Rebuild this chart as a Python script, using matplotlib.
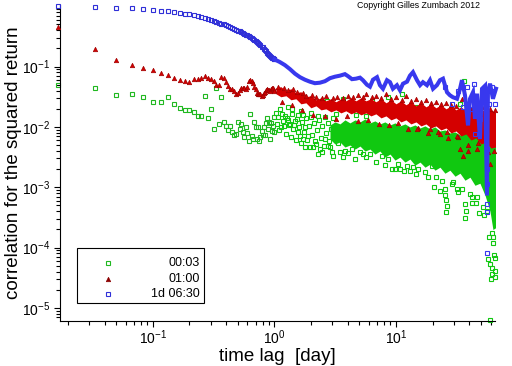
import numpy as np
import matplotlib.pyplot as plt
from matplotlib.patches import Rectangle
from matplotlib.ticker import LogLocator

plt.rcParams['font.family'] = ['Liberation Sans', 'DejaVu Sans']

# every value below is log10(lag in days) / log10(correlation)

# first 60 lags (one every 24 min) are common to the three series
short_log_lag = [-1.778, -1.477, -1.301, -1.176, -1.079, -1.000, -0.933, -0.875, -0.824, -0.778,
                 -0.737, -0.699, -0.664, -0.632, -0.602, -0.574, -0.549, -0.523, -0.500, -0.477,
                 -0.456, -0.436, -0.417, -0.398, -0.380, -0.363, -0.347, -0.331, -0.316, -0.301,
                 -0.287, -0.273, -0.260, -0.247, -0.234, -0.222, -0.210, -0.199, -0.187, -0.176,
                 -0.165, -0.155, -0.145, -0.135, -0.125, -0.115, -0.106, -0.097, -0.088, -0.079,
                 -0.071, -0.062, -0.054, -0.046, -0.038, -0.030, -0.022, -0.015, -0.007, 0.000]

green_short = [-1.312, -1.355, -1.478, -1.462, -1.512, -1.592, -1.588, -1.508, -1.625, -1.688,
               -1.722, -1.722, -1.755, -1.822, -1.812, -1.492, -1.855, -1.700, -2.033, -1.355,
               -1.955, -1.508, -1.912, -1.988, -2.045, -1.983, -2.083, -2.133, -2.117, -1.912,
               -2.033, -1.950, -2.078, -2.167, -2.000, -2.100, -2.225, -1.788, -2.158, -2.200,
               -1.925, -2.000, -2.200, -2.005, -2.228, -2.172, -2.067, -2.133, -2.000, -2.133,
               -1.933, -1.855, -2.033, -1.922, -2.200, -1.933, -2.067, -1.978, -1.833, -2.078]

red_short = [-0.338, -0.712, -0.895, -0.978, -1.022, -1.062, -1.108, -1.142, -1.183, -1.222,
             -1.237, -1.253, -1.212, -1.208, -1.188, -1.163, -1.187, -1.208, -1.233, -1.312,
             -1.308, -1.172, -1.183, -1.255, -1.322, -1.367, -1.378, -1.412, -1.450, -1.433,
             -1.383, -1.355, -1.350, -1.355, -1.367, -1.333, -1.245, -1.228, -1.242, -1.267,
             -1.333, -1.367, -1.433, -1.450, -1.458, -1.450, -1.488, -1.467, -1.433, -1.422,
             -1.392, -1.367, -1.383, -1.395, -1.400, -1.375, -1.358, -1.355, -1.383, -1.412]

blue_short = [0.000, -0.005, -0.022, -0.028, -0.038, -0.058, -0.072, -0.078, -0.092, -0.108,
              -0.122, -0.130, -0.142, -0.155, -0.170, -0.187, -0.205, -0.225, -0.242, -0.258,
              -0.275, -0.288, -0.300, -0.313, -0.327, -0.342, -0.355, -0.370, -0.387, -0.403,
              -0.413, -0.427, -0.440, -0.455, -0.468, -0.483, -0.497, -0.510, -0.527, -0.545,
              -0.560, -0.577, -0.593, -0.613, -0.632, -0.650, -0.667, -0.683, -0.703, -0.725,
              -0.747, -0.767, -0.788, -0.808, -0.825, -0.842, -0.853, -0.863, -0.872, -0.880]

# 00:03 : dense cloud after ~3 days (core band) plus the loose points around it
green_band_lag = [0.457, 0.498, 0.539, 0.580, 0.621, 0.663, 0.704, 0.745, 0.786, 0.827,
                  0.868, 0.909, 0.951, 0.992, 1.033, 1.074, 1.115, 1.156, 1.198, 1.239,
                  1.280, 1.321, 1.362, 1.403, 1.444, 1.486, 1.527, 1.568, 1.609, 1.650,
                  1.691, 1.733, 1.774, 1.798, 1.823]
green_band_top = [-1.967, -1.917, -1.950, -1.883, -1.933, -1.883, -1.917, -1.867, -1.933, -1.900,
                  -1.950, -1.917, -1.967, -1.933, -1.983, -1.950, -2.000, -1.967, -2.017, -1.983,
                  -2.033, -2.000, -2.067, -2.050, -2.100, -2.083, -2.133, -2.100, -2.133, -2.100,
                  -2.083, -2.017, -1.883, -1.833, -1.850]
green_band_bottom = [-2.200, -2.283, -2.250, -2.333, -2.300, -2.367, -2.317, -2.400, -2.367, -2.450,
                     -2.400, -2.500, -2.450, -2.550, -2.500, -2.583, -2.533, -2.633, -2.583, -2.667,
                     -2.617, -2.717, -2.667, -2.767, -2.717, -2.817, -2.767, -2.883, -2.833, -2.967,
                     -2.933, -3.133, -3.400, -3.700, -3.667]

green_lag = [0.012, 0.029, 0.045, 0.053, 0.070, 0.086, 0.103, 0.111, 0.119, 0.128,
             0.144, 0.152, 0.169, 0.185, 0.193, 0.210, 0.218, 0.235, 0.251, 0.251,
             0.276, 0.317, 0.333, 0.358, 0.374, 0.391, 0.416, 0.432, 0.440, 0.457,
             0.473, 0.481, 0.539, 0.564, 0.580, 0.638, 0.704, 0.728, 0.786, 0.802,
             0.885, 0.934, 0.934, 1.016, 1.033, 1.049, 1.091, 1.140, 1.173, 1.181,
             1.239, 1.296, 0.992, 1.115, 1.263, 1.313, 1.362, 1.403, 1.403, 1.412,
             1.420, 1.412, 1.469, 1.502, 1.510, 1.568, 1.576, 1.568, 1.626, 1.626,
             1.658, 1.667, 1.683, 1.716, 1.724, 1.749, 1.790, 1.798, 1.765, 1.798,
             1.807, 1.815, 1.757, 1.774, 1.790, 1.815, 1.790, 1.815, 1.782, 1.774,
             1.560, 1.584, 1.527, 1.650, 1.741, 0.235, 0.300, 0.358, 0.506, 0.671,
             0.753,
             0.021, 0.037, 0.062, 0.078, 0.095, 0.111, 0.136, 0.144, 0.160, 0.177,
             0.193, 0.202, 0.218, 0.226, 0.243, 0.259, 0.267, 0.284, 0.292, 0.300,
             0.309, 0.325, 0.342, 0.350, 0.366, 0.383, 0.391, 0.407, 0.416, 0.424,
             0.440, 0.449, 0.465, 0.481, 0.490, 0.506, 0.523, 0.531,
             0.564, 0.605, 0.663, 0.753, 0.835, 0.909, 0.967, 1.066, 1.165, 1.329,
             1.379, 1.461, 1.543, 1.609]
green_corr = [-1.767, -1.833, -1.700, -2.000, -1.900, -1.817, -1.850, -1.667, -1.967, -1.950,
              -1.783, -2.033, -1.900, -1.867, -2.083, -2.150, -1.733, -2.200, -2.000, -2.333,
              -2.150, -2.333, -2.233, -2.450, -2.367, -2.417, -2.200, -1.567, -2.317, -2.333,
              -2.417, -2.483, -2.417, -1.533, -2.400, -2.367, -2.417, -2.450, -2.450, -1.567,
              -2.483, -1.500, -2.533, -2.617, -2.700, -1.450, -2.650, -2.667, -1.667, -2.700,
              -2.750, -2.650, -2.700, -2.733, -2.833, -3.000, -3.067, -3.033, -3.133, -3.217,
              -3.317, -3.417, -2.917, -3.033, -3.083, -3.283, -3.400, -3.517, -3.167, -3.267,
              -3.267, -3.167, -3.433, -3.333, -3.467, -3.400, -3.750, -3.817, -3.817, -3.917,
              -4.117, -4.167, -4.183, -4.267, -4.333, -4.383, -4.433, -4.483, -4.517, -5.200,
              -1.233, -1.700, -1.617, -1.533, -1.450, -1.800, -1.767, -1.817, -1.783, -1.800,
              -1.817,
              -1.950, -2.050, -1.783, -1.983, -2.117, -1.883, -2.167, -1.700, -1.967, -2.217,
              -1.800, -2.000, -2.267, -1.917, -2.083, -1.850, -2.217, -1.983, -2.333, -1.833,
              -2.133, -1.933, -2.283, -2.050, -1.883, -2.183, -1.983, -2.317, -1.833, -2.100,
              -1.933, -2.233, -2.033, -1.850, -2.150, -1.983, -2.267, -2.083,
              -2.500, -2.433, -2.533, -2.500, -2.583, -2.633, -2.700, -2.733, -2.783, -2.833,
              -2.900, -2.950, -3.033, -3.117]

# 01:00
red_band_lag = [0.012, 0.053, 0.095, 0.136, 0.177, 0.218, 0.259, 0.300, 0.342, 0.383,
                0.424, 0.465, 0.506, 0.547, 0.588, 0.630, 0.671, 0.712, 0.753, 0.794,
                0.835, 0.877, 0.918, 0.959, 1.000, 1.041, 1.082, 1.123, 1.165, 1.206,
                1.247, 1.288, 1.329, 1.370, 1.412, 1.453, 1.494, 1.535, 1.576, 1.617,
                1.658, 1.700, 1.741, 1.782, 1.823]
red_band_top = [-1.350, -1.333, -1.400, -1.367, -1.433, -1.417, -1.500, -1.483, -1.550, -1.517,
                -1.567, -1.533, -1.583, -1.533, -1.567, -1.517, -1.567, -1.517, -1.567, -1.533,
                -1.583, -1.533, -1.600, -1.550, -1.617, -1.567, -1.633, -1.583, -1.650, -1.600,
                -1.667, -1.617, -1.683, -1.633, -1.700, -1.650, -1.717, -1.667, -1.733, -1.683,
                -1.750, -1.700, -1.750, -1.717, -1.767]
red_band_bottom = [-1.450, -1.500, -1.483, -1.550, -1.533, -1.617, -1.600, -1.683, -1.650, -1.717,
                   -1.700, -1.750, -1.717, -1.767, -1.733, -1.783, -1.750, -1.800, -1.767, -1.817,
                   -1.783, -1.850, -1.817, -1.883, -1.850, -1.917, -1.883, -1.950, -1.917, -1.983,
                   -1.950, -2.017, -1.983, -2.050, -2.017, -2.100, -2.067, -2.150, -2.117, -2.217,
                   -2.183, -2.283, -2.250, -2.350, -2.333]

red_lag = [0.029, 0.078, 0.111, 0.152, 0.185, 0.235, 0.259, 0.309, 0.342, 0.391,
           0.424, 0.481, 0.514, 0.564, 0.605, 0.646, 0.687, 0.728, 0.753, 0.802,
           0.835, 0.877, 0.918, 0.959, 1.000, 1.049, 1.082, 1.123, 1.165, 1.206,
           1.247, 1.288, 1.329, 1.370, 1.412, 1.453, 1.494, 1.543, 1.584, 1.626,
           1.675, 1.724, 1.774, 1.815,
           0.062, 0.144, 0.226, 0.317, 0.416, 0.506, 0.597, 0.687, 0.770, 0.860,
           0.942, 1.016, 1.099, 1.181, 1.263, 1.346, 1.428, 1.510, 1.593, 1.675,
           1.757, 1.807,
           1.173, 1.280, 1.362, 1.420, 1.502, 1.527, 1.551, 1.593, 1.667, 1.749,
           1.774]
red_corr = [-1.333, -1.350, -1.383, -1.367, -1.417, -1.433, -1.483, -1.467, -1.500, -1.517,
            -1.483, -1.517, -1.500, -1.517, -1.483, -1.500, -1.467, -1.500, -1.450, -1.500,
            -1.483, -1.517, -1.450, -1.533, -1.500, -1.550, -1.483, -1.567, -1.533, -1.583,
            -1.550, -1.600, -1.583, -1.617, -1.600, -1.633, -1.650, -1.533, -1.667, -1.683,
            -1.700, -1.667, -1.700, -1.717,
            -1.583, -1.633, -1.717, -1.800, -1.817, -1.867, -1.817, -1.900, -1.883, -1.950,
            -1.967, -1.933, -2.033, -2.017, -2.100, -2.083, -2.183, -2.167, -2.300, -2.267,
            -2.417, -2.400,
            -2.033, -2.033, -2.117, -2.083, -2.150, -2.367, -2.483, -2.400, -2.367, -2.367,
            -2.617]

# 1d 06:30 : after 1 day the points merge into a thick wiggly trace
blue_lag = [0.045, 0.086, 0.128, 0.169, 0.210, 0.251, 0.292, 0.333, 0.374, 0.416,
            0.457, 0.498, 0.539, 0.580, 0.605, 0.638, 0.671, 0.704, 0.728, 0.761,
            0.786, 0.811, 0.844, 0.868, 0.893, 0.926, 0.951, 0.975, 1.008, 1.033,
            1.058, 1.091, 1.115, 1.140, 1.173, 1.198, 1.222, 1.255, 1.280, 1.305,
            1.337, 1.362, 1.387, 1.420, 1.444, 1.469, 1.502, 1.527, 1.543, 1.568,
            1.593, 1.609, 1.634, 1.650, 1.667, 1.691, 1.708, 1.733, 1.749, 1.757,
            1.774, 1.798, 1.823]
blue_corr = [-0.925, -0.975, -1.042, -1.117, -1.175, -1.217, -1.250, -1.275, -1.267, -1.242,
             -1.192, -1.167, -1.150, -1.125, -1.158, -1.208, -1.200, -1.183, -1.225, -1.300,
             -1.333, -1.217, -1.175, -1.308, -1.367, -1.225, -1.258, -1.367, -1.308, -1.392,
             -1.283, -1.250, -1.150, -1.092, -1.225, -1.308, -1.258, -1.308, -1.225, -1.367,
             -1.308, -1.225, -1.200, -1.425, -1.475, -1.508, -1.533, -1.367, -1.225, -1.475,
             -1.975, -1.533, -1.425, -1.867, -1.450, -2.200, -1.367, -1.317, -3.133, -1.417,
             -1.283, -1.533, -1.367]
blue_extra_lag = [1.403, 1.461, 1.510, 1.551, 1.584, 1.617, 1.642, 1.675, 1.716, 1.741,
                  1.765, 1.790, 1.815, 1.593, 1.650, 1.691, 1.749, 1.749, 1.749, 1.749,
                  1.749, 1.749]
blue_extra_corr = [-1.333, -1.617, -1.400, -1.667, -1.333, -1.700, -1.283, -1.617, -1.533, -1.700,
                   -1.617, -1.333, -1.617, -1.733, -2.117, -1.867, -2.367, -2.700, -2.950, -3.283,
                   -3.417, -4.083]

labels = ['00:03', '01:00', '1d 06:30']

GREEN = '#20b820'
GREEN_DENSE = '#10c810'
RED = '#d40000'
RED_EDGE = '#a00000'
BLUE = '#3030d8'
BLUE_DENSE = '#3838ee'


def p10(v):
    return np.power(10.0, np.asarray(v, dtype=float))


fig = plt.figure(figsize=(5.12, 3.66), dpi=100)
ax = fig.add_axes([60 / 512, 1 - 321 / 366, 435 / 512, 316 / 366])
ax.set_xscale('log')
ax.set_yscale('log')

sq = dict(linestyle='none', marker='s', ms=2.6, mfc='none', mew=0.8, clip_on=False)
tri = dict(linestyle='none', marker='^', ms=3.2, mew=0.5, clip_on=False)

# 00:03
ax.fill_between(p10(green_band_lag), p10(green_band_top), p10(green_band_bottom),
                color=GREEN_DENSE, lw=0, zorder=2)
ax.plot(p10(short_log_lag), p10(green_short), mec=GREEN, zorder=2, **sq)
ax.plot(p10(green_lag), p10(green_corr), mec=GREEN_DENSE, zorder=2, **sq)

# 01:00
ax.fill_between(p10(red_band_lag), p10(red_band_top), p10(red_band_bottom),
                color=RED, lw=0, zorder=3)
ax.plot(p10(short_log_lag), p10(red_short), color=RED, mec=RED_EDGE, zorder=3, **tri)
ax.plot(p10(red_lag), p10(red_corr), color=RED, mec=RED_EDGE, zorder=3, **tri)

# 1d 06:30
ax.plot(p10(short_log_lag), p10(blue_short), mec=BLUE, zorder=4, **sq)
ax.plot(p10([short_log_lag[-1]] + blue_lag), p10([blue_short[-1]] + blue_corr),
        color=BLUE_DENSE, lw=2.9, solid_joinstyle='miter', zorder=4, clip_on=False)
ax.plot(p10(blue_extra_lag), p10(blue_extra_corr), mec=BLUE_DENSE, zorder=4, **sq)

ax.set_xlim(0.0172, 65.3)
ax.set_ylim(6.07e-6, 1.05)
ax.set_yticks([1e-5, 1e-4, 1e-3, 1e-2, 1e-1])
ax.yaxis.set_minor_locator(LogLocator(base=10, subs=np.arange(2, 10), numticks=20))
ax.xaxis.set_minor_locator(LogLocator(base=10, subs=np.arange(2, 10), numticks=20))

for s in ['top', 'right']:
    ax.spines[s].set_visible(False)
for s in ['left', 'bottom']:
    ax.spines[s].set_linewidth(0.8)

ax.tick_params(which='major', direction='out', length=4.5, width=0.8, labelsize=10, pad=1.0)
ax.tick_params(which='minor', direction='out', length=2.8, width=0.8)
ax.tick_params(axis='y', which='major', pad=2.5)

ax.set_xlabel('time lag  [day]', fontsize=13.5)
ax.set_ylabel('correlation for the squared return', fontsize=13.5)
ax.xaxis.label.set_va('center')
ax.xaxis.set_label_coords(0.5, -0.113)
ax.yaxis.label.set_va('center')
ax.yaxis.set_label_coords(-0.108, 0.5)

# legend box, labels right aligned like the original
ax.add_patch(Rectangle((0.039, 0.057), 0.292, 0.174, transform=ax.transAxes,
                       fill=False, ec='black', lw=0.8, zorder=5, clip_on=False))
rows = [0.1845, 0.133, 0.0845]
styles = [dict(mec=GREEN, **sq), dict(color='#8b0000', mec='#8b0000', **tri), dict(mec=BLUE, **sq)]
for lab, yy, st in zip(labels, rows, styles):
    ax.plot([0.110], [yy], transform=ax.transAxes, zorder=6, **st)
    ax.text(0.322, yy, lab, transform=ax.transAxes, ha='right', va='center', fontsize=9, zorder=6)

fig.text(480 / 512, 1 - 5 / 366, 'Copyright Gilles Zumbach 2012', ha='right', va='center', fontsize=6.3)

fig.savefig('out.png', dpi=100)
